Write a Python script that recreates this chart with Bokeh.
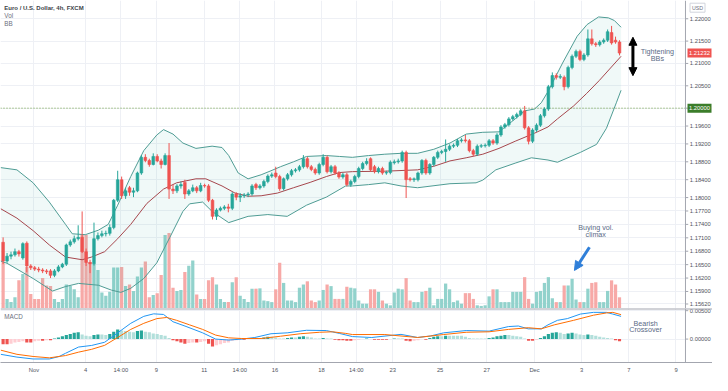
from bokeh.plotting import figure
from bokeh.models import Range1d, FixedTicker, ColumnDataSource, Span, Arrow, NormalHead
from bokeh.layouts import column
from bokeh.embed import file_html
from bokeh.resources import INLINE
from bokeh.core.properties import value

# ---------------- data (EUR/USD 4h, FXCM) ----------------
opens = [1.1700, 1.1658, 1.1669, 1.1672, 1.1679, 1.1665, 1.1698, 1.1647, 1.1643, 1.1640,
         1.1638, 1.1636, 1.1636, 1.1626, 1.1636, 1.1645, 1.1651, 1.1694, 1.1701, 1.1708,
         1.1711, 1.1679, 1.1655, 1.1652, 1.1708, 1.1715, 1.1719, 1.1720, 1.1733, 1.1794,
         1.1840, 1.1804, 1.1822, 1.1812, 1.1815, 1.1855, 1.1890, 1.1883, 1.1874, 1.1892,
         1.1882, 1.1874, 1.1894, 1.1819, 1.1815, 1.1826, 1.1834, 1.1808, 1.1815, 1.1822,
         1.1815, 1.1827, 1.1826, 1.1794, 1.1758, 1.1772, 1.1776, 1.1779, 1.1776, 1.1808,
         1.1801, 1.1804, 1.1806, 1.1808, 1.1829, 1.1822, 1.1826, 1.1836, 1.1848, 1.1855,
         1.1847, 1.1820, 1.1842, 1.1851, 1.1860, 1.1862, 1.1869, 1.1887, 1.1869, 1.1863,
         1.1855, 1.1874, 1.1890, 1.1858, 1.1869, 1.1855, 1.1846, 1.1851, 1.1829, 1.1836,
         1.1847, 1.1865, 1.1876, 1.1887, 1.1869, 1.1858, 1.1865, 1.1855, 1.1856, 1.1878,
         1.1880, 1.1882, 1.1901, 1.1842, 1.1840, 1.1840, 1.1855, 1.1883, 1.1855, 1.1874,
         1.1890, 1.1901, 1.1903, 1.1908, 1.1915, 1.1917, 1.1927, 1.1929, 1.1927, 1.1905,
         1.1897, 1.1915, 1.1916, 1.1917, 1.1927, 1.1922, 1.1940, 1.1958, 1.1963, 1.1976,
         1.1981, 1.1986, 1.1994, 1.1956, 1.1926, 1.1951, 1.1962, 1.1983, 1.1998, 1.2048,
         1.2073, 1.2069, 1.2069, 1.2048, 1.2091, 1.2116, 1.2127, 1.2109, 1.2119, 1.2155,
         1.2144, 1.2142, 1.2148, 1.2152, 1.2169, 1.2152, 1.2148]
highs = [1.1711, 1.1676, 1.1679, 1.1686, 1.1683, 1.1700, 1.1702, 1.1651, 1.1647, 1.1645,
         1.1642, 1.1640, 1.1640, 1.1640, 1.1649, 1.1654, 1.1697, 1.1706, 1.1715, 1.1738,
         1.1769, 1.1686, 1.1661, 1.1744, 1.1722, 1.1726, 1.1726, 1.1740, 1.1797, 1.1860,
         1.1847, 1.1822, 1.1826, 1.1822, 1.1858, 1.1895, 1.1897, 1.1887, 1.1899, 1.1897,
         1.1887, 1.1899, 1.1922, 1.1829, 1.1830, 1.1836, 1.1840, 1.1819, 1.1829, 1.1826,
         1.1833, 1.1831, 1.1830, 1.1797, 1.1776, 1.1780, 1.1783, 1.1786, 1.1812, 1.1812,
         1.1810, 1.1810, 1.1812, 1.1830, 1.1833, 1.1830, 1.1840, 1.1852, 1.1856, 1.1869,
         1.1851, 1.1845, 1.1855, 1.1864, 1.1866, 1.1873, 1.1895, 1.1891, 1.1873, 1.1867,
         1.1878, 1.1897, 1.1894, 1.1873, 1.1873, 1.1859, 1.1855, 1.1855, 1.1840, 1.1851,
         1.1869, 1.1880, 1.1888, 1.1890, 1.1873, 1.1869, 1.1869, 1.1860, 1.1883, 1.1885,
         1.1887, 1.1905, 1.1905, 1.1846, 1.1845, 1.1858, 1.1886, 1.1887, 1.1877, 1.1893,
         1.1905, 1.1907, 1.1930, 1.1919, 1.1921, 1.1931, 1.1933, 1.1940, 1.1931, 1.1909,
         1.1919, 1.1920, 1.1921, 1.1931, 1.1931, 1.1944, 1.1962, 1.1967, 1.1980, 1.1985,
         1.1990, 1.1998, 1.2005, 1.1960, 1.1955, 1.1966, 1.1987, 1.2002, 1.2052, 1.2080,
         1.2078, 1.2076, 1.2073, 1.2095, 1.2120, 1.2131, 1.2131, 1.2123, 1.2176, 1.2176,
         1.2148, 1.2152, 1.2156, 1.2176, 1.2184, 1.2160, 1.2152]
lows = [1.1651, 1.1654, 1.1662, 1.1668, 1.1668, 1.1661, 1.1633, 1.1638, 1.1636, 1.1633,
        1.1631, 1.1629, 1.1620, 1.1622, 1.1633, 1.1642, 1.1647, 1.1690, 1.1697, 1.1704,
        1.1676, 1.1647, 1.1631, 1.1648, 1.1704, 1.1711, 1.1713, 1.1715, 1.1729, 1.1790,
        1.1797, 1.1797, 1.1804, 1.1801, 1.1812, 1.1851, 1.1879, 1.1869, 1.1872, 1.1879,
        1.1865, 1.1872, 1.1797, 1.1808, 1.1810, 1.1820, 1.1797, 1.1804, 1.1812, 1.1810,
        1.1812, 1.1822, 1.1790, 1.1751, 1.1750, 1.1769, 1.1772, 1.1767, 1.1772, 1.1794,
        1.1790, 1.1799, 1.1801, 1.1804, 1.1817, 1.1818, 1.1822, 1.1832, 1.1844, 1.1843,
        1.1815, 1.1816, 1.1838, 1.1847, 1.1856, 1.1858, 1.1865, 1.1865, 1.1859, 1.1851,
        1.1851, 1.1870, 1.1854, 1.1854, 1.1851, 1.1842, 1.1842, 1.1825, 1.1824, 1.1832,
        1.1843, 1.1861, 1.1872, 1.1858, 1.1854, 1.1854, 1.1851, 1.1851, 1.1852, 1.1874,
        1.1876, 1.1878, 1.1799, 1.1836, 1.1835, 1.1836, 1.1851, 1.1851, 1.1851, 1.1870,
        1.1886, 1.1897, 1.1880, 1.1904, 1.1911, 1.1913, 1.1923, 1.1923, 1.1901, 1.1893,
        1.1893, 1.1911, 1.1912, 1.1913, 1.1918, 1.1918, 1.1936, 1.1954, 1.1959, 1.1972,
        1.1977, 1.1982, 1.1952, 1.1919, 1.1922, 1.1947, 1.1958, 1.1979, 1.1994, 1.2044,
        1.2064, 1.2065, 1.2040, 1.2044, 1.2087, 1.2112, 1.2105, 1.2105, 1.2115, 1.2140,
        1.2137, 1.2138, 1.2144, 1.2148, 1.2142, 1.2144, 1.2118]
closes = [1.1658, 1.1669, 1.1672, 1.1679, 1.1674, 1.1697, 1.1647, 1.1643, 1.1640, 1.1638,
          1.1636, 1.1634, 1.1626, 1.1636, 1.1645, 1.1651, 1.1694, 1.1701, 1.1708, 1.1711,
          1.1679, 1.1655, 1.1652, 1.1708, 1.1715, 1.1719, 1.1720, 1.1733, 1.1794, 1.1840,
          1.1804, 1.1815, 1.1812, 1.1815, 1.1855, 1.1890, 1.1883, 1.1874, 1.1892, 1.1882,
          1.1874, 1.1894, 1.1819, 1.1815, 1.1826, 1.1829, 1.1808, 1.1815, 1.1822, 1.1815,
          1.1827, 1.1826, 1.1794, 1.1758, 1.1772, 1.1776, 1.1779, 1.1776, 1.1808, 1.1801,
          1.1804, 1.1806, 1.1808, 1.1826, 1.1822, 1.1826, 1.1836, 1.1848, 1.1851, 1.1847,
          1.1820, 1.1842, 1.1851, 1.1860, 1.1862, 1.1869, 1.1887, 1.1869, 1.1863, 1.1855,
          1.1874, 1.1890, 1.1858, 1.1869, 1.1855, 1.1846, 1.1851, 1.1829, 1.1836, 1.1847,
          1.1865, 1.1876, 1.1881, 1.1862, 1.1858, 1.1865, 1.1855, 1.1856, 1.1879, 1.1880,
          1.1882, 1.1901, 1.1840, 1.1840, 1.1842, 1.1855, 1.1883, 1.1855, 1.1874, 1.1890,
          1.1901, 1.1903, 1.1908, 1.1915, 1.1917, 1.1927, 1.1929, 1.1927, 1.1905, 1.1897,
          1.1915, 1.1916, 1.1917, 1.1927, 1.1922, 1.1940, 1.1958, 1.1963, 1.1976, 1.1981,
          1.1986, 1.1994, 1.1956, 1.1926, 1.1951, 1.1962, 1.1983, 1.1998, 1.2048, 1.2073,
          1.2069, 1.2071, 1.2048, 1.2091, 1.2116, 1.2127, 1.2109, 1.2119, 1.2155, 1.2144,
          1.2142, 1.2148, 1.2152, 1.2171, 1.2146, 1.2148, 1.21232]
volumes = [145, 30, 20, 35, 88, 108, 130, 45, 30, 30, 95, 72, 70, 30, 20, 30, 75, 70, 60, 35,
           230, 230, 145, 140, 120, 50, 40, 52, 128, 128, 130, 70, 75, 55, 100, 128, 147, 35, 42, 48,
           105, 230, 236, 65, 55, 58, 114, 134, 150, 44, 30, 30, 88, 98, 75, 30, 20, 20, 82, 98,
           40, 30, 20, 62, 62, 63, 25, 23, 20, 60, 143, 80, 25, 25, 20, 65, 75, 85, 25, 20,
           25, 58, 75, 70, 30, 30, 30, 68, 65, 63, 25, 15, 15, 60, 60, 52, 25, 15, 10, 50,
           62, 60, 95, 25, 20, 20, 52, 55, 65, 10, 30, 30, 78, 60, 20, 25, 15, 48, 48, 30,
           10, 8, 10, 38, 60, 60, 20, 20, 20, 52, 52, 52, 98, 30, 15, 52, 55, 80, 98, 32,
           20, 20, 72, 72, 93, 28, 20, 20, 62, 80, 82, 20, 20, 55, 88, 75, 35]

# Bollinger Bands (20, 2) at sample bars
bb_upper_x = [-0.6, 3.5, 7.6, 11.7, 15.8, 17.5, 20.8, 24.1, 26.6, 29, 32.3, 35.6, 38.9, 40.6,
              43, 45.5, 48.8, 52.9, 55.4, 57.1, 59.5, 62, 65.3, 67.8, 70.2, 73.5, 76.8, 81.8,
              85.1, 88.4, 92.5, 96.6, 100.7, 104.9, 109, 113.1, 117.2, 121.4, 125.5, 129.6,
              132, 134.5, 136.2, 137.9, 141.6, 145.3, 147.8, 150.7, 153.2, 154.7, 156.4]
bb_upper = [1.1867, 1.1862, 1.1833, 1.1790, 1.1740, 1.1719, 1.1717, 1.1727, 1.1740, 1.1783,
            1.1847, 1.1905, 1.1940, 1.1952, 1.1942, 1.1922, 1.1910, 1.1915, 1.1912, 1.1894,
            1.1855, 1.1842, 1.1851, 1.1860, 1.1869, 1.1880, 1.1892, 1.1894, 1.1892, 1.1890,
            1.1894, 1.1897, 1.1899, 1.1899, 1.1908, 1.1922, 1.1942, 1.1946, 1.1947, 1.1976,
            1.1994, 1.1998, 1.2012, 1.2037, 1.2101, 1.2161, 1.2187, 1.2204, 1.2202, 1.2196,
            1.2181]
bb_mid_x = [-0.6, 3.5, 7.6, 11.7, 15.8, 20, 22.4, 25.7, 29, 32.3, 36.4, 40.6, 43.9, 48.8,
            51.3, 55.4, 58.7, 62, 65.3, 69.4, 73.5, 77.7, 81.8, 85.1, 88.4, 96.6, 104.9, 109,
            113.1, 117.2, 121.4, 125.5, 129.6, 134.5, 137.9, 140.3, 144.4, 147.7, 150.9, 156.4]
bb_mid = [1.1775, 1.1754, 1.1726, 1.1694, 1.1667, 1.1661, 1.1667, 1.1679, 1.1708, 1.1740,
          1.1787, 1.1819, 1.1833, 1.1842, 1.1842, 1.1826, 1.1810, 1.1803, 1.1804, 1.1810,
          1.1822, 1.1834, 1.1847, 1.1856, 1.1858, 1.1859, 1.1862, 1.1870, 1.1882, 1.1889,
          1.1897, 1.1910, 1.1926, 1.1944, 1.1958, 1.1976, 1.2005, 1.2033, 1.2062, 1.2116]
bb_lower_x = [-0.6, 1, 7.6, 12.5, 15.8, 19.1, 24.1, 27.4, 29.8, 32.3, 35.6, 38.9, 42.2, 45.5,
              47.2, 50.5, 52.9, 57.1, 62, 67, 71.9, 76.8, 81.8, 86.7, 88.4, 92.5, 96.6, 100.7,
              104.9, 113.1, 119.7, 121.4, 124.7, 129.6, 133.7, 137.9, 140.3, 146.1, 150.2,
              152.7, 155.2, 156.4]
bb_lower = [1.1658, 1.1653, 1.1619, 1.1591, 1.1601, 1.1608, 1.1604, 1.1593, 1.1588, 1.1597,
            1.1619, 1.1654, 1.1711, 1.1769, 1.1786, 1.1790, 1.1769, 1.1744, 1.1758, 1.1762,
            1.1758, 1.1783, 1.1801, 1.1826, 1.1826, 1.1829, 1.1833, 1.1826, 1.1822, 1.1831,
            1.1833, 1.1839, 1.1862, 1.1877, 1.1889, 1.1884, 1.1879, 1.1901, 1.1919, 1.1955,
            1.2012, 1.2040]

# MACD (12, 26, 9)
macd_x = [-0.6, 3.5, 7.6, 11.7, 14.2, 15.8, 19.1, 22.4, 25.7, 29, 32.3, 35.6, 38.1, 40.6, 43,
          46.3, 50.5, 53.8, 57.1, 60.4, 63.7, 67.8, 71.9, 76.8, 81.8, 85.1, 88.4, 93.3, 100.7,
          104.9, 108.2, 111.5, 117.2, 123, 127.9, 130.4, 132.9, 136.2, 137.9, 140.3, 142.8,
          146.1, 149.4, 152.7, 154.3, 156.4]
macd_line = [-0.00268, -0.00317, -0.0035, -0.0035, -0.00306, -0.0025, -0.0014, -0.00112,
             -0.00056, 0.0011, 0.00277, 0.0040, 0.00444, 0.00433, 0.00305, 0.00222, 0.0011,
             0.0, -0.00017, 0.0, 0.00028, 0.00094, 0.0011, 0.00155, 0.0015, 0.0010, 0.00044,
             0.00028, 0.00083, 0.00028, 0.00055, 0.0011, 0.0015, 0.0014, 0.0022, 0.0023,
             0.0018, 0.0018, 0.0025, 0.0033, 0.0036, 0.0044, 0.0047, 0.0047, 0.0044, 0.0040]
signal_x = [-0.6, 3.5, 7.6, 11.7, 15.8, 19.1, 22.4, 25.7, 29, 32.3, 35.6, 38.9, 41.4, 43.9,
            47.2, 50.5, 53.8, 57.1, 60.4, 65.3, 70.2, 75.2, 80.1, 83.4, 86.7, 88.4, 96.6,
            104.9, 111.5, 117.2, 123, 127.9, 132.9, 136.2, 139.5, 144.4, 149.4, 152.7, 154.3,
            156.4]
signal_line = [-0.00195, -0.00268, -0.00306, -0.0033, -0.0029, -0.0023, -0.0018, -0.0011,
               0.00028, 0.0017, 0.00277, 0.0036, 0.0038, 0.0033, 0.0025, 0.0017, 0.0007,
               0.00022, 0.0001, 0.0001, 0.0005, 0.00094, 0.0012, 0.00128, 0.0010, 0.0008,
               0.0008, 0.00028, 0.0008, 0.0012, 0.00128, 0.0017, 0.0020, 0.0018, 0.0025,
               0.0033, 0.0042, 0.0046, 0.0047, 0.0043]
macd_hist = [-0.0009, -0.0009, -0.0008, -0.0006, -0.0005, -0.0004, -0.0006, -0.0006, -0.0004,
             -0.0003, -0.0003, -0.0002, -0.0002,
             0.0001, 0.0003, 0.0005, 0.0007, 0.0009, 0.0011, 0.0012, 0.0008, 0.0006, 0.0005,
             0.0007, 0.0008, 0.0008, 0.0007, 0.0009, 0.0013, 0.0017,
             0.0015, 0.0014, 0.0013, 0.0012, 0.0014, 0.0015, 0.0013, 0.0012, 0.0010, 0.0009,
             0.0007, 0.0006, 0.0002,
             -0.0002, -0.0004, -0.0006, -0.0008, -0.0007, -0.0006, -0.0006, -0.0005, -0.0004,
             -0.0008, -0.0013, -0.0011, -0.0009, -0.0007, -0.0006, -0.0003, -0.0002, -0.0001,
             -0.0001,
             0.0000, 0.0001, 0.0001, 0.0002, 0.0003, 0.0004, 0.0004, 0.0003, 0.0001, 0.0001,
             0.0002, 0.0003, 0.0003, 0.0004, 0.0005, 0.0004, 0.0003, 0.0001, 0.0001, 0.0002,
             0.0001, 0.0001, -0.0001, -0.0002, -0.0002, -0.0003, -0.0003,
             -0.0002, -0.0001, 0.0, 0.0001, 0.0, -0.0001, -0.0001, -0.0001, -0.0001, 0.0,
             0.0001, 0.0001,
             0.0001, -0.0003, -0.0004, -0.0003, -0.0002, 0.0, -0.0001, 0.0002, 0.0004, 0.0005,
             0.0005, 0.0006, 0.0006, 0.0006, 0.0006, 0.0006, 0.0004, 0.0002, 0.0001, 0.0001,
             0.0001, 0.0001, 0.0002, 0.0003, 0.0005, 0.0006, 0.0007, 0.0007, 0.0006, 0.0005,
             0.0004, 0.0001, -0.0003, -0.0003, -0.0001, 0.0002, 0.0005, 0.0009, 0.0011, 0.0012,
             0.0011, 0.0009, 0.0010, 0.0011, 0.0010, 0.0008, 0.0007, 0.0008, 0.0007, 0.0006,
             0.0004, 0.0003, 0.0002, 0.0001, -0.0002, -0.0004]

xtick_pos = [7.8, 20.9, 29.8, 38.8, 50.9, 59.9, 68.8, 80.6, 89.4, 98.6, 110.6, 122.4, 134.5,
             146.4, 158.4, 170.3]
xtick_labels = ["Nov", "4", "14:00", "9", "11", "14:00", "16", "18", "14:00", "23", "25", "27",
                "Dec", "3", "7", "9"]
price_ticks = [1.22, 1.215, 1.21, 1.205, 1.20, 1.196, 1.192, 1.188, 1.184, 1.18, 1.177, 1.174,
               1.171, 1.168, 1.165, 1.162, 1.159, 1.1562]
macd_ticks = [0.0, 0.005]
last_price = 1.21232
level_price = 1.20

n = len(closes)
assert all(len(a) == n for a in (opens, highs, lows, volumes, macd_hist))

# ---------------- styling / geometry ----------------
FONT = "Liberation Sans"
GREEN, RED = "#26a69a", "#ef5350"
AXC = "#a3a6af"
LBL = "#50535e"
GRID = "#eef0f5"
NOTE = "#5b6b86"
W = 712
X0, XAX, X1 = -0.66, 172.7, 179.54     # data area ends at XAX, price scale column to X1
P_LO, P_HI = 1.15519, 1.22408
M_LO, M_HI = -0.00412, 0.00538

xr = Range1d(X0, X1)

up = [c >= o for o, c in zip(opens, closes)]
src = ColumnDataSource(dict(
    x=list(range(n)), h=highs, l=lows,
    top=[max(o, c) for o, c in zip(opens, closes)],
    bot=[min(o, c) for o, c in zip(opens, closes)],
    col=[GREEN if u else RED for u in up],
    vol=volumes,
    vcol=["#92d2cc" if u else "#f7a9a7" for u in up],
))


def txt(p, x, y, s, size="7.2px", color=NOTE, align="left", style="normal"):
    p.text(x=[x], y=[y], text=[s], text_font=value(FONT), text_font_size=size,
           text_color=color, text_align=align, text_baseline="middle",
           text_font_style=style)


def price_scale(p, ticks, lo, hi):
    # white column for the price scale, its line, ticks and labels
    p.quad(left=XAX, right=X1, bottom=lo, top=hi, fill_color="white", line_color=None)
    p.add_layout(Span(location=XAX, dimension="height", line_color=AXC, line_width=1))
    p.segment(x0=[XAX] * len(ticks), x1=[XAX + 0.7] * len(ticks), y0=ticks, y1=ticks,
              line_color=AXC, line_width=1)
    p.text(x=[XAX + 1.1] * len(ticks), y=ticks, text=["%.5f" % t for t in ticks],
           text_font=value(FONT), text_font_size="5.8px", text_color=LBL,
           text_baseline="middle", text_align="left")


def tag(p, y, s, fill, txtcol="white", border=None, x=176.25, w=24, h=9, size="5.8px"):
    p.rect(x=[x], y=[y], width=w, height=h, width_units="screen", height_units="screen",
           fill_color=fill, line_color=border)
    p.text(x=[x], y=[y], text=[s], text_font=value(FONT), text_font_size=size,
           text_color=txtcol, text_align="center", text_baseline="middle")


# ---------------- price pane ----------------
p1 = figure(width=W, height=308, x_range=xr, y_range=Range1d(P_LO, P_HI),
            output_backend="svg", toolbar_location=None, x_axis_location=None,
            y_axis_location=None, min_border_left=0, min_border_right=0,
            min_border_top=0, min_border_bottom=0)
p1.extra_y_ranges = {"vol": Range1d(0, 963)}
p1.outline_line_color = None
p1.xgrid.ticker = FixedTicker(ticks=xtick_pos)
p1.ygrid.ticker = FixedTicker(ticks=price_ticks)
p1.xgrid.grid_line_color = GRID
p1.ygrid.grid_line_color = GRID

# volume
p1.vbar(x="x", top="vol", bottom=0, width=0.82, source=src, y_range_name="vol",
        fill_color="vcol", line_color=None)

# Bollinger bands
p1.patch(bb_upper_x + bb_lower_x[::-1], bb_upper + bb_lower[::-1],
         fill_color="#26a69a", fill_alpha=0.07, line_color=None)
p1.line(bb_upper_x, bb_upper, line_color="#4f9c94", line_width=1)
p1.line(bb_lower_x, bb_lower, line_color="#4f9c94", line_width=1)
p1.line(bb_mid_x, bb_mid, line_color="#a6474d", line_width=1)

# 1.20 level
p1.segment(x0=[X0], x1=[XAX], y0=[level_price], y1=[level_price], line_color="#6a9d3c",
           line_dash="1 2", line_width=1)

# candles
p1.segment(x0="x", y0="l", x1="x", y1="h", source=src, line_color="col", line_width=1)
p1.vbar(x="x", top="top", bottom="bot", width=0.68, source=src, fill_color="col",
        line_color="col", line_width=0.6)

# header
txt(p1, 0.3, 1.2225, "Euro / U.S. Dollar, 4h, FXCM", size="6px", color="#3c3f48", style="bold")
txt(p1, 0.3, 1.2207, "Vol", size="6.3px", color="#6d7080")
txt(p1, 0.3, 1.2189, "BB", size="6.3px", color="#6d7080")

# annotations
txt(p1, 165.6, 1.2127, "Tightening", align="center")
txt(p1, 165.6, 1.2111, "BBs", align="center")
p1.add_layout(Arrow(x_start=159.4, y_start=1.20727, x_end=159.4, y_end=1.21586,
                    start=NormalHead(size=8, fill_color="black", line_color="black"),
                    end=NormalHead(size=8, fill_color="black", line_color="black"),
                    line_color="black", line_width=3))
txt(p1, 150.0, 1.1734, "Buying vol.", align="center")
txt(p1, 150.0, 1.1717, "climax", align="center")
p1.add_layout(Arrow(x_start=148.4, y_start=1.1689, x_end=144.6, y_end=1.1637,
                    end=NormalHead(size=9, fill_color="#2f7fd9", line_color="#2f7fd9"),
                    line_color="#2f7fd9", line_width=3))

# price scale
price_scale(p1, price_ticks, P_LO, P_HI)
tag(p1, last_price, "%.5f" % last_price, RED)
tag(p1, level_price, "%.5f" % level_price, "#3b7d2a")
tag(p1, 1.22247, "USD", "white", txtcol="#6d7080", border="#d1d4dc", x=175.75, w=15,
    size="5.3px")

# ---------------- MACD pane ----------------
p2 = figure(width=W, height=67, x_range=xr, y_range=Range1d(M_LO, M_HI),
            output_backend="svg", toolbar_location=None, y_axis_location=None,
            min_border_left=0, min_border_right=0, min_border_top=0, min_border_bottom=0)
p2.outline_line_color = None
p2.xgrid.ticker = FixedTicker(ticks=xtick_pos)
p2.ygrid.ticker = FixedTicker(ticks=macd_ticks)
p2.xgrid.grid_line_color = GRID
p2.ygrid.grid_line_color = GRID
p2.xaxis.ticker = FixedTicker(ticks=xtick_pos)
p2.xaxis.major_label_overrides = {pos: lab for pos, lab in zip(xtick_pos, xtick_labels)}
p2.xaxis.axis_line_color = AXC
p2.xaxis.major_tick_line_color = None
p2.xaxis.minor_tick_line_color = None
p2.xaxis.major_tick_out = 0
p2.xaxis.major_tick_in = 0
p2.xaxis.major_label_standoff = 4
p2.xaxis.major_label_text_font = FONT
p2.xaxis.major_label_text_font_size = "5.8px"
p2.xaxis.major_label_text_color = LBL

hcol = []
prev = 0.0
for h in macd_hist:
    if h >= 0:
        hcol.append("#26a69a" if h > prev else "#b2dfdb")
    else:
        hcol.append("#ffcdd2" if h > prev else "#ef5350")
    prev = h
p2.vbar(x=list(range(n)), top=macd_hist, bottom=0, width=0.8, fill_color=hcol,
        line_color=None)
p2.line(macd_x, macd_line, line_color="#2196f3", line_width=1)
p2.line(signal_x, signal_line, line_color="#ff6d00", line_width=1)

txt(p2, 0.3, 0.0039, "MACD", size="6.3px", color="#6d7080")
txt(p2, 162.6, 0.00277, "Bearish", align="center")
txt(p2, 162.6, 0.00160, "Crossover", align="center")

price_scale(p2, macd_ticks, M_LO, M_HI)
p2.add_layout(Span(location=M_HI, dimension="width", line_color=AXC, line_width=2))

layout = column(p1, p2, spacing=0)
open("out.html", "w").write(file_html(layout, INLINE))
